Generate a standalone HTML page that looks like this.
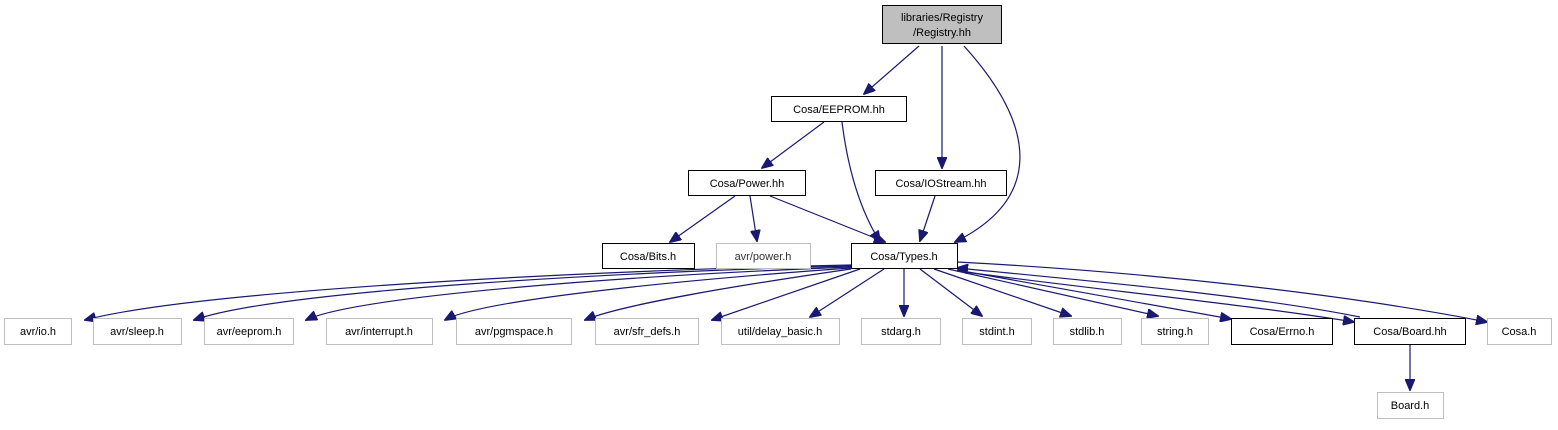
<!DOCTYPE html>
<html><head><meta charset="utf-8"><style>
html,body{margin:0;padding:0;background:#fff;}
svg text{font-family:"Liberation Sans",Arial,sans-serif;font-size:11px;text-anchor:middle;}
</style></head><body>
<svg width="1558" height="425" viewBox="0 0 1558 425" xmlns="http://www.w3.org/2000/svg">
<defs><marker id="a" markerWidth="12" markerHeight="10" refX="11" refY="5" orient="auto" markerUnits="userSpaceOnUse"><path d="M0,0 L12,5 L0,10 z" fill="#191970" stroke="#191970"/></marker></defs>
<g fill="none" stroke="#191970" stroke-width="1.2" marker-end="url(#a)">
<path d="M919,46 L864,94"/>
<path d="M942,46 L942,168"/>
<path d="M964,46 C1040,130 1040,200 955,242"/>
<path d="M824,122 L762,168"/>
<path d="M842,122 C848,170 860,210 880,242"/>
<path d="M735,196 L670,242"/>
<path d="M750,196 L757,241"/>
<path d="M770,196 L885,242"/>
<path d="M935,196 L920,241"/>
<path d="M851,265 C600,270 200,290 85,320"/>
<path d="M851,266 C620,272 280,290 194,320"/>
<path d="M851,267 C640,275 360,295 306,320"/>
<path d="M851,268 C680,280 480,300 445,320"/>
<path d="M851,269 C740,285 620,305 585,320"/>
<path d="M860,269 L712,320"/>
<path d="M884,269 L810,317"/>
<path d="M904,269 L904,316"/>
<path d="M920,269 L982,316"/>
<path d="M934,269 L1071,316"/>
<path d="M948,269 L1158,316"/>
<path d="M957,270 L1231,319"/>
<path d="M957,271 C1100,290 1250,305 1354,322"/>
<path d="M1360,317 C1250,295 1080,280 957,268"/>
<path d="M957,262 C1150,272 1350,295 1487,322"/>
<path d="M1410,345 L1410,390"/>
</g>
<g stroke-width="1">
<rect x="882.5" y="5.5" width="119" height="38" fill="#bfbfbf" stroke="#000"/>
<rect x="771.5" y="96.5" width="135" height="25" fill="#fff" stroke="#000"/>
<rect x="688.5" y="170.5" width="117" height="25" fill="#fff" stroke="#000"/>
<rect x="875.5" y="170.5" width="131" height="25" fill="#fff" stroke="#000"/>
<rect x="602.5" y="243.5" width="92" height="25" fill="#fff" stroke="#000"/>
<rect x="716.5" y="243.5" width="94" height="25" fill="#fff" stroke="#bfbfbf"/>
<rect x="851.5" y="243.5" width="106" height="25" fill="#fff" stroke="#000"/>
<rect x="4.5" y="318.5" width="67" height="26" fill="#fff" stroke="#bfbfbf"/>
<rect x="93.5" y="318.5" width="88" height="26" fill="#fff" stroke="#bfbfbf"/>
<rect x="204.5" y="318.5" width="89" height="26" fill="#fff" stroke="#bfbfbf"/>
<rect x="326.5" y="318.5" width="106" height="26" fill="#fff" stroke="#bfbfbf"/>
<rect x="456.5" y="318.5" width="115" height="26" fill="#fff" stroke="#bfbfbf"/>
<rect x="595.5" y="318.5" width="103" height="26" fill="#fff" stroke="#bfbfbf"/>
<rect x="721.5" y="318.5" width="118" height="26" fill="#fff" stroke="#bfbfbf"/>
<rect x="861.5" y="318.5" width="79" height="26" fill="#fff" stroke="#bfbfbf"/>
<rect x="962.5" y="318.5" width="69" height="26" fill="#fff" stroke="#bfbfbf"/>
<rect x="1053.5" y="318.5" width="68" height="26" fill="#fff" stroke="#bfbfbf"/>
<rect x="1141.5" y="318.5" width="67" height="26" fill="#fff" stroke="#bfbfbf"/>
<rect x="1231.5" y="318.5" width="101" height="26" fill="#fff" stroke="#000"/>
<rect x="1354.5" y="318.5" width="111" height="26" fill="#fff" stroke="#000"/>
<rect x="1487.5" y="318.5" width="64" height="26" fill="#fff" stroke="#bfbfbf"/>
<rect x="1377.5" y="392.5" width="66" height="26" fill="#fff" stroke="#bfbfbf"/>
</g>
<g fill="#000">
<text x="942" y="21">libraries/Registry</text>
<text x="942" y="36">/Registry.hh</text>
<text x="839" y="113">Cosa/EEPROM.hh</text>
<text x="747" y="187">Cosa/Power.hh</text>
<text x="941" y="187">Cosa/IOStream.hh</text>
<text x="648" y="260">Cosa/Bits.h</text>
<text x="763" y="260" fill="#333">avr/power.h</text>
<text x="904" y="260">Cosa/Types.h</text>
<text x="38" y="335">avr/io.h</text>
<text x="137" y="335">avr/sleep.h</text>
<text x="249" y="335">avr/eeprom.h</text>
<text x="379" y="335">avr/interrupt.h</text>
<text x="514" y="335">avr/pgmspace.h</text>
<text x="647" y="335">avr/sfr_defs.h</text>
<text x="780" y="335">util/delay_basic.h</text>
<text x="901" y="335">stdarg.h</text>
<text x="997" y="335">stdint.h</text>
<text x="1087" y="335">stdlib.h</text>
<text x="1175" y="335">string.h</text>
<text x="1282" y="335">Cosa/Errno.h</text>
<text x="1410" y="335">Cosa/Board.hh</text>
<text x="1519" y="335">Cosa.h</text>
<text x="1410" y="409">Board.h</text>
</g>
</svg>
</body></html>
